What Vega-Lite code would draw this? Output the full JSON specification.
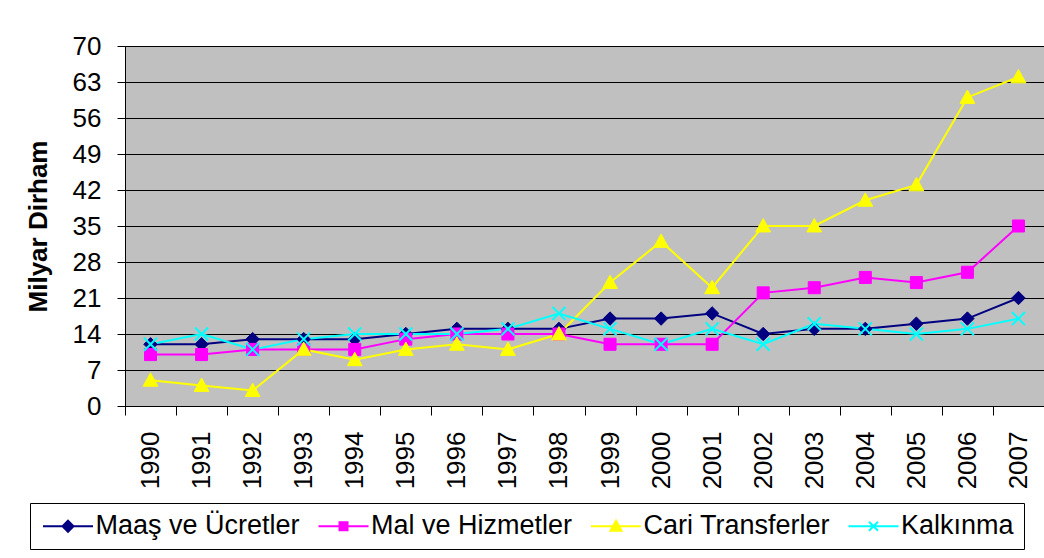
{
  "$schema": "https://vega.github.io/schema/vega-lite/v6.json",
  "autosize": {"type": "none"},
  "padding": {"left": 125, "top": 46, "right": 0, "bottom": 152},
  "width": 919,
  "height": 360,
  "background": "white",
  "config": {
    "font": "Liberation Sans",
    "view": {"fill": "#C0C0C0", "stroke": "#808080", "strokeWidth": 1}
  },
  "data": {
    "values": [
      {"year": "1990", "Maaş ve Ücretler": 12, "Mal ve Hizmetler": 10, "Cari Transferler": 5, "Kalkınma": 12},
      {"year": "1991", "Maaş ve Ücretler": 12, "Mal ve Hizmetler": 10, "Cari Transferler": 4, "Kalkınma": 14},
      {"year": "1992", "Maaş ve Ücretler": 13, "Mal ve Hizmetler": 11, "Cari Transferler": 3, "Kalkınma": 11},
      {"year": "1993", "Maaş ve Ücretler": 13, "Mal ve Hizmetler": 11, "Cari Transferler": 11, "Kalkınma": 13},
      {"year": "1994", "Maaş ve Ücretler": 13, "Mal ve Hizmetler": 11, "Cari Transferler": 9, "Kalkınma": 14},
      {"year": "1995", "Maaş ve Ücretler": 14, "Mal ve Hizmetler": 13, "Cari Transferler": 11, "Kalkınma": 14},
      {"year": "1996", "Maaş ve Ücretler": 15, "Mal ve Hizmetler": 14, "Cari Transferler": 12, "Kalkınma": 14},
      {"year": "1997", "Maaş ve Ücretler": 15, "Mal ve Hizmetler": 14, "Cari Transferler": 11, "Kalkınma": 15},
      {"year": "1998", "Maaş ve Ücretler": 15, "Mal ve Hizmetler": 14, "Cari Transferler": 14, "Kalkınma": 18},
      {"year": "1999", "Maaş ve Ücretler": 17, "Mal ve Hizmetler": 12, "Cari Transferler": 24, "Kalkınma": 15},
      {"year": "2000", "Maaş ve Ücretler": 17, "Mal ve Hizmetler": 12, "Cari Transferler": 32, "Kalkınma": 12},
      {"year": "2001", "Maaş ve Ücretler": 18, "Mal ve Hizmetler": 12, "Cari Transferler": 23, "Kalkınma": 15},
      {"year": "2002", "Maaş ve Ücretler": 14, "Mal ve Hizmetler": 22, "Cari Transferler": 35, "Kalkınma": 12},
      {"year": "2003", "Maaş ve Ücretler": 15, "Mal ve Hizmetler": 23, "Cari Transferler": 35, "Kalkınma": 16},
      {"year": "2004", "Maaş ve Ücretler": 15, "Mal ve Hizmetler": 25, "Cari Transferler": 40, "Kalkınma": 15},
      {"year": "2005", "Maaş ve Ücretler": 16, "Mal ve Hizmetler": 24, "Cari Transferler": 43, "Kalkınma": 14},
      {"year": "2006", "Maaş ve Ücretler": 17, "Mal ve Hizmetler": 26, "Cari Transferler": 60, "Kalkınma": 15},
      {"year": "2007", "Maaş ve Ücretler": 21, "Mal ve Hizmetler": 35, "Cari Transferler": 64, "Kalkınma": 17}
    ]
  },
  "transform": [
    {"fold": ["Maaş ve Ücretler", "Mal ve Hizmetler", "Cari Transferler", "Kalkınma"], "as": ["series", "value"]}
  ],
  "encoding": {
    "x": {
      "field": "year", "type": "ordinal",
      "scale": {"type": "band", "paddingInner": 0, "paddingOuter": 0},
      "axis": {
        "title": null, "labelAngle": 270, "labelAlign": "right", "labelBaseline": "middle",
        "labelFontSize": 26, "labelColor": "black", "labelPadding": 16,
        "tickBand": "extent", "tickSize": 9, "tickColor": "black", "domainColor": "black",
        "grid": false
      }
    },
    "y": {
      "field": "value", "type": "quantitative",
      "scale": {"domain": [0, 70], "nice": false},
      "axis": {
        "title": "Milyar Dirham", "titleFontSize": 26, "titleFontWeight": "bold", "titleColor": "black",
        "titlePadding": 21,
        "values": [0, 7, 14, 21, 28, 35, 42, 49, 56, 63, 70],
        "labelFontSize": 26, "labelColor": "black", "labelPadding": 16,
        "tickSize": 8, "tickColor": "black", "domainColor": "black",
        "grid": true, "gridColor": "black", "gridOpacity": 1, "gridWidth": 1
      }
    }
  },
  "layer": [
    {
      "mark": {"type": "line", "strokeWidth": 2},
      "encoding": {
        "color": {
          "field": "series", "type": "nominal",
          "scale": {"domain": ["Maaş ve Ücretler", "Mal ve Hizmetler", "Cari Transferler", "Kalkınma"], "range": ["#000080", "#FF00FF", "#FFFF00", "#00FFFF"]},
          "legend": {
            "title": null, "orient": "none", "legendX": -95, "legendY": 457, "direction": "horizontal", "columns": 4,
            "strokeColor": "black", "fillColor": "white", "padding": 9.5, "columnPadding": 13.5,
            "labelFontSize": 27, "labelColor": "black", "labelLimit": 400,
            "symbolSize": 400, "symbolOffset": 15, "labelOffset": 14, "symbolStrokeWidth": 2,
            "encode": {"symbols": {"update": {
              "shape": {"signal": "datum.value === 'Maaş ve Ücretler' ? 'M-2.5,0H2.5M0,-0.55L0.55,0L0,0.55L-0.55,0Z' : datum.value === 'Mal ve Hizmetler' ? 'M-2.5,0H2.5M-0.4,-0.4H0.4V0.4H-0.4Z' : datum.value === 'Cari Transferler' ? 'M-2.5,0H2.5M0,-0.55L0.55,0.45H-0.55Z' : 'M-2.5,0H2.5M-0.45,-0.45L0.45,0.45M-0.45,0.45L0.45,-0.45'"},
              "fill": {"signal": "scale('color', datum.value)"},
              "strokeWidth": {"value": 2}
            }}}
          }
        }
      }
    },
    {
      "transform": [{"filter": {"field": "series", "equal": "Maaş ve Ücretler"}}],
      "mark": {"type": "point", "shape": "M0,-1L1,0L0,1L-1,0Z", "filled": true, "fill": "#000080", "stroke": "#000080", "size": 180, "strokeWidth": 1, "opacity": 1}
    },
    {
      "transform": [{"filter": {"field": "series", "equal": "Mal ve Hizmetler"}}],
      "mark": {"type": "point", "shape": "M-0.85,-0.85H0.85V0.85H-0.85Z", "filled": true, "fill": "#FF00FF", "stroke": "#FF00FF", "size": 200, "strokeWidth": 1, "opacity": 1}
    },
    {
      "transform": [{"filter": {"field": "series", "equal": "Cari Transferler"}}],
      "mark": {"type": "point", "shape": "M0,-1L1,0.8H-1Z", "filled": true, "fill": "#FFFF00", "stroke": "#FFFF00", "size": 220, "strokeWidth": 1, "opacity": 1}
    },
    {
      "transform": [{"filter": {"field": "series", "equal": "Kalkınma"}}],
      "mark": {"type": "point", "shape": "M-1,-1L1,1M-1,1L1,-1", "filled": false, "stroke": "#00FFFF", "size": 170, "strokeWidth": 2, "opacity": 1}
    }
  ]
}
